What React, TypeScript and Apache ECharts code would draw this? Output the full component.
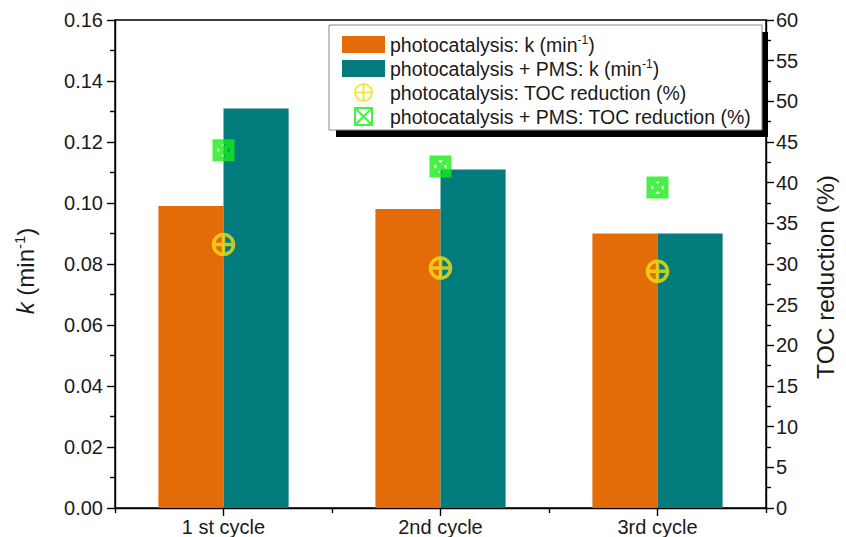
import React, { useEffect, useRef } from 'react';
import * as echarts from 'echarts';

const categories = ['1 st cycle', '2nd cycle', '3rd cycle'];
const kPhoto = [0.099, 0.098, 0.09];
const kPhotoPMS = [0.131, 0.111, 0.09];
const tocPhoto = [32.4, 29.5, 29.1];
const tocPhotoPMS = [44.0, 42.0, 39.4];
const seriesNames = [
  'photocatalysis: k (min-1)',
  'photocatalysis + PMS: k (min-1)',
  'photocatalysis: TOC reduction (%)',
  'photocatalysis + PMS: TOC reduction (%)',
];

const FONT = "'Liberation Sans', Arial, Helvetica, sans-serif";
const ORANGE = '#E36C09';
const TEAL = '#017B7B';
const YELLOW = '#F0E015';
const GREEN = '#16EE16';

const CIRCLE_CROSS = 'path://M12,0 A12,12 0 1,1 12,24 A12,12 0 1,1 12,0 Z M12,0 L12,24 M0,12 L24,12';
const BOX_X = 'path://M0,0 L20,0 L20,20 L0,20 Z M0,0 L20,20 M20,0 L0,20';

export default function App() {
  const ref = useRef<HTMLDivElement>(null);
  useEffect(() => {
    if (!ref.current) return;
    const chart = echarts.init(ref.current, undefined, { renderer: 'svg' });
    const axisLine = { show: true, lineStyle: { color: '#000', width: 1.4 } };
    const labelStyle = { color: '#1a1a1a', fontSize: 20, fontFamily: FONT };
    chart.setOption({
      animation: false,
      backgroundColor: '#fff',
      grid: {
        left: 115,
        right: 73,
        top: 20,
        bottom: 28,
        show: true,
        borderColor: '#000',
        borderWidth: 1.4,
        backgroundColor: 'transparent',
      },
      graphic: [
        { type: 'rect', z: 5, shape: { x: 336, y: 32, width: 432, height: 105 }, style: { fill: '#000' } },
        {
          type: 'rect',
          z: 6,
          shape: { x: 329, y: 25, width: 433, height: 105 },
          style: { fill: '#fff', stroke: '#888', lineWidth: 1 },
        },
      ],
      legend: {
        z: 10,
        orient: 'vertical',
        left: 342,
        top: 33,
        padding: 0,
        itemGap: 1,
        itemWidth: 43,
        itemHeight: 17,
        data: [
          { name: seriesNames[0], icon: 'rect' },
          { name: seriesNames[1], icon: 'rect' },
          { name: seriesNames[2] },
          { name: seriesNames[3] },
        ],
        formatter: (name: string) => name.replace('min-1', 'min{s|-1}'),
        textStyle: {
          color: '#1a1a1a',
          fontSize: 19.5,
          fontFamily: FONT,
          lineHeight: 23,
          rich: {
            s: { fontSize: 12, fontFamily: FONT, color: '#1a1a1a', padding: [0, 0, 9, 0] },
          },
        },
      },
      xAxis: [
        {
          type: 'category',
          data: categories,
          position: 'bottom',
          axisLine,
          axisTick: { show: true, alignWithLabel: true, inside: false, length: 8, lineStyle: { color: '#000', width: 1.4 } },
          axisLabel: { ...labelStyle, margin: 9 },
          splitLine: { show: false },
        },
        {
          type: 'value',
          position: 'bottom',
          min: 0,
          max: 3,
          interval: 1,
          axisLine: { show: false },
          axisTick: { show: true, length: 5, lineStyle: { color: '#000', width: 1.4 } },
          axisLabel: { show: false },
          splitLine: { show: false },
        },
      ],
      yAxis: [
        {
          type: 'value',
          position: 'left',
          min: 0,
          max: 0.16,
          interval: 0.02,
          axisLine,
          axisTick: { show: true, length: 8, lineStyle: { color: '#000', width: 1.4 } },
          minorTick: { show: true, splitNumber: 2, length: 5, lineStyle: { color: '#000', width: 1.4 } },
          axisLabel: { ...labelStyle, margin: 12, formatter: (v: number) => v.toFixed(2) },
          splitLine: { show: false },
          name: '{i|k} (min{s|-1})',
          nameLocation: 'middle',
          nameGap: 76,
          nameTextStyle: {
            color: '#1a1a1a',
            fontSize: 24,
            fontFamily: FONT,
            padding: [0, 14, 0, 0],
            rich: {
              i: { fontStyle: 'italic', fontSize: 24, fontFamily: FONT, color: '#1a1a1a' },
              s: { fontSize: 15, fontFamily: FONT, color: '#1a1a1a', padding: [0, 0, 12, 0] },
            },
          },
        },
        {
          type: 'value',
          position: 'right',
          min: 0,
          max: 60,
          interval: 5,
          axisLine,
          axisTick: { show: true, length: 8, lineStyle: { color: '#000', width: 1.4 } },
          minorTick: { show: true, splitNumber: 2, length: 5, lineStyle: { color: '#000', width: 1.4 } },
          axisLabel: { ...labelStyle, margin: 10 },
          splitLine: { show: false },
          name: 'TOC reduction (%)',
          nameLocation: 'middle',
          nameGap: 47,
          nameTextStyle: { color: '#1a1a1a', fontSize: 24.5, fontFamily: FONT, padding: [0, 26, 0, 0] },
        },
      ],
      series: [
        {
          name: seriesNames[0],
          type: 'bar',
          xAxisIndex: 0,
          yAxisIndex: 0,
          data: kPhoto,
          barWidth: '30%',
          barGap: '0%',
          itemStyle: { color: ORANGE },
          z: 2,
        },
        {
          name: seriesNames[1],
          type: 'bar',
          xAxisIndex: 0,
          yAxisIndex: 0,
          data: kPhotoPMS,
          barWidth: '30%',
          barGap: '0%',
          itemStyle: { color: TEAL },
          z: 2,
        },
        {
          name: seriesNames[2],
          type: 'scatter',
          xAxisIndex: 0,
          yAxisIndex: 1,
          data: tocPhoto,
          symbol: CIRCLE_CROSS,
          symbolSize: 20,
          symbolKeepAspect: true,
          itemStyle: { color: 'none', borderColor: YELLOW, borderWidth: 3.5 },
          z: 5,
        },
        {
          name: seriesNames[3],
          type: 'scatter',
          xAxisIndex: 0,
          yAxisIndex: 1,
          data: tocPhotoPMS,
          symbol: BOX_X,
          symbolSize: 17,
          symbolKeepAspect: true,
          itemStyle: { color: 'none', borderColor: GREEN, borderWidth: 5 },
          z: 5,
        },
      ],
    });
    return () => chart.dispose();
  }, []);
  return <div ref={ref} style={{ position: 'fixed', left: 0, top: 0, width: 846, height: 537 }} />;
}
